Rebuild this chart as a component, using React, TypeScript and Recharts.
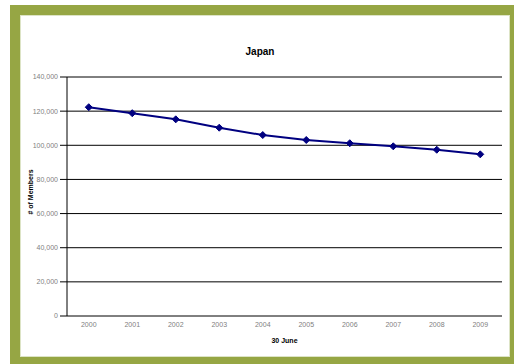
import { LineChart, Line, XAxis, YAxis, CartesianGrid } from 'recharts';

// membership as of 30 June each year
const years = ['2000', '2001', '2002', '2003', '2004', '2005', '2006', '2007', '2008', '2009'];
const members = [122300, 118800, 115200, 110300, 106000, 103100, 101200, 99400, 97400, 94700];
const yTicks = [0, 20000, 40000, 60000, 80000, 100000, 120000, 140000];

const data = years.map((year, i) => ({ year, members: members[i] }));
// category edges, so the x tick marks sit between the years
const edgeTicks = years.map((_, i) => i).concat(years.length);

const FONT = '"Liberation Sans", Arial, sans-serif';
const NAVY = '#000080';
const OLIVE = '#96a644';

function Diamond(props: any) {
    const { cx, cy, index } = props;
    const r = 3.5;
    return (
        <polygon
            key={`d-${index}`}
            points={`${cx},${cy - r} ${cx + r},${cy} ${cx},${cy + r} ${cx - r},${cy}`}
            fill={NAVY}
            stroke={NAVY}
            strokeWidth={1}
        />
    );
}

function YTitle(props: any) {
    const { value } = props;
    return (
        <text
            x={30}
            y={192}
            transform="rotate(-90 30 192)"
            textAnchor="middle"
            dominantBaseline="central"
            fontFamily={FONT}
            fontSize={7}
            fontWeight="bold"
            fill="#000"
        >
            {value}
        </text>
    );
}

export default function App() {
    const tickStyle = { fontSize: 7, fill: '#808080', fontFamily: FONT };

    return (
        <div style={{ position: 'absolute', left: 0, top: 0, width: 514, height: 364, background: '#fff', overflow: 'hidden' }}>
            <div style={{ position: 'absolute', left: 10, top: 5, width: 510, height: 365, background: OLIVE }} />
            <div
                style={{
                    position: 'absolute', left: 20, top: 15, width: 488, height: 340,
                    background: '#fff', border: '1px solid #dde4c6',
                }}
            />
            <div
                style={{
                    position: 'absolute', left: 20, top: 46, width: 480, textAlign: 'center',
                    fontFamily: FONT, fontSize: 10, fontWeight: 'bold', color: '#000',
                }}
            >
                Japan
            </div>
            <div style={{ position: 'absolute', left: 0, top: 0 }}>
                <LineChart width={514} height={364} data={data} margin={{ top: 77, right: 12, bottom: 18, left: 10 }}>
                    <CartesianGrid xAxisId="years" yAxisId="left" vertical={false} stroke="#000" strokeWidth={1} />
                    <XAxis
                        xAxisId="edges"
                        type="number"
                        domain={[0, years.length]}
                        ticks={edgeTicks}
                        allowDataOverflow
                        height={0}
                        tickFormatter={() => ''}
                        tickSize={4}
                        stroke="#000"
                    />
                    <XAxis
                        xAxisId="years"
                        dataKey="year"
                        scale="band"
                        height={30}
                        axisLine={false}
                        tickLine={false}
                        tickSize={0}
                        tickMargin={6}
                        tick={tickStyle}
                        interval={0}
                        label={{
                            value: '30 June', position: 'insideBottom', offset: 3,
                            style: { fontSize: 7, fontWeight: 'bold', fill: '#000', fontFamily: FONT },
                        }}
                    />
                    <XAxis xAxisId="top" orientation="top" height={0} tick={false} tickLine={false} stroke="#808080" />
                    <YAxis
                        yAxisId="left"
                        width={57}
                        domain={[0, 140000]}
                        ticks={yTicks}
                        interval={0}
                        tickSize={7}
                        tickMargin={2}
                        tick={tickStyle}
                        stroke="#000"
                        tickFormatter={(v: number) => v.toLocaleString('en-US')}
                        label={<YTitle value="# of Members" />}
                    />
                    <YAxis yAxisId="right" orientation="right" width={0} tick={false} tickLine={false} stroke="#808080" />
                    <Line
                        xAxisId="years"
                        yAxisId="left"
                        dataKey="members"
                        stroke={NAVY}
                        strokeWidth={2}
                        dot={Diamond}
                        activeDot={false}
                        isAnimationActive={false}
                    />
                </LineChart>
            </div>
        </div>
    );
}
